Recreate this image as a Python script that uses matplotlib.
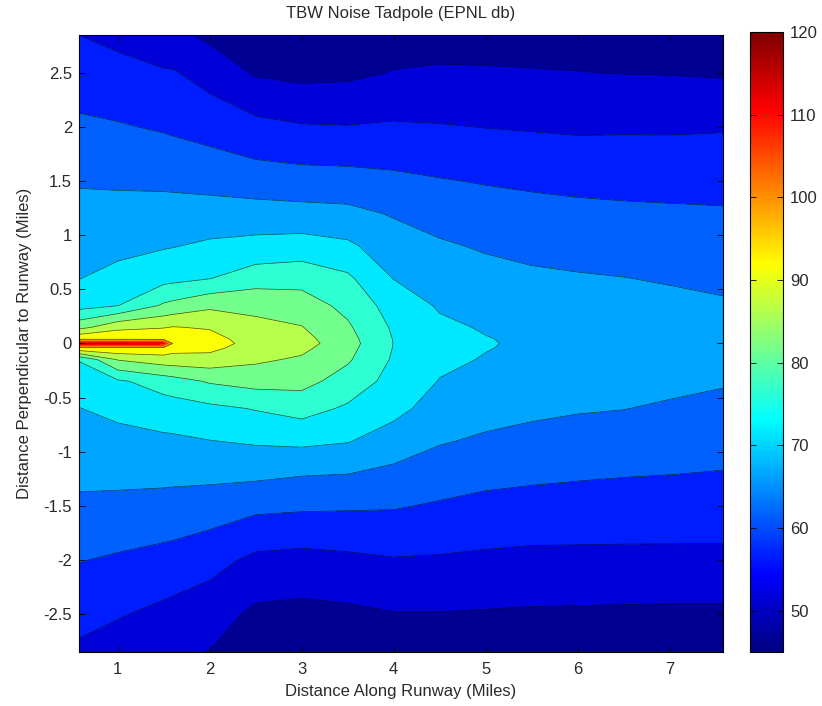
import numpy as np
import matplotlib.pyplot as plt
from matplotlib.colors import Normalize, LinearSegmentedColormap
from matplotlib.cm import ScalarMappable
from matplotlib.ticker import FuncFormatter

# stations along the runway (miles) and offsets across it (miles, bottom -> top)
x_miles = [0.58, 1.0, 1.5, 1.6, 2.0, 2.5, 3.0, 3.5, 4.0, 4.5, 5.0, 5.5, 6.0, 6.5, 7.0, 7.58]
y_miles = [-2.85, -2.5, -2.0, -1.5, -1.2, -0.9, -0.6, -0.35, -0.15, -0.04, 0.0,
           0.04, 0.15, 0.35, 0.6, 0.9, 1.2, 1.5, 2.0, 2.5, 2.85]

# EPNL (dB), one list per station, bottom -> top
epnl_x0_58 = [54.1, 56.6, 60.2, 64.1, 66.2, 68.0, 69.9, 72.7, 75.2, 94.5, 117.0,
              94.5, 83.3, 73.2, 69.9, 68.2, 66.4, 64.6, 60.9, 57.4, 55.0]
epnl_x1_0 = [52.6, 55.4, 59.4, 63.8, 66.3, 68.5, 71.2, 74.2, 85.2, 94.5, 116.0,
             94.5, 88.5, 74.9, 71.5, 68.7, 66.5, 64.4, 60.4, 56.5, 53.8]
epnl_x1_5 = [50.8, 53.8, 58.4, 63.4, 66.3, 69.1, 72.6, 77.3, 87.5, 94.0, 112.0,
             94.0, 89.7, 80.7, 73.4, 69.6, 66.9, 64.1, 59.5, 55.5, 51.5]
epnl_x1_6 = [50.6, 53.4, 58.2, 63.2, 66.3, 69.2, 72.8, 77.9, 87.7, 92.0, 94.0,
             93.0, 90.2, 81.4, 73.7, 69.8, 66.9, 64.0, 59.2, 55.4, 51.2]
epnl_x2_0 = [49.9, 52.2, 56.7, 62.6, 66.3, 69.9, 73.9, 80.5, 87.9, 91.5, 93.0,
             92.0, 89.5, 84.0, 74.9, 70.8, 67.1, 63.4, 58.1, 53.1, 49.0]
epnl_x2_5 = [47.5, 49.0, 53.9, 61.2, 66.2, 70.6, 75.3, 81.9, 85.8, 87.2, 87.5,
             87.4, 86.2, 83.8, 77.7, 71.5, 67.1, 62.4, 56.4, 49.5, 47.5]
epnl_x3_0 = [46.5, 48.6, 53.4, 60.8, 65.4, 71.1, 76.9, 81.6, 84.3, 86.2, 87.0,
             86.6, 85.2, 82.3, 78.3, 72.1, 66.7, 62.0, 55.4, 48.7, 46.5]
epnl_x3_5 = [46.5, 49.0, 54.0, 60.6, 65.1, 70.3, 74.3, 77.9, 80.6, 81.6, 82.0,
             81.7, 80.7, 78.7, 75.9, 70.9, 66.3, 61.8, 55.2, 49.0, 47.0]
epnl_x4_0 = [47.5, 49.8, 54.7, 60.4, 63.9, 67.7, 71.5, 73.3, 74.4, 74.8, 74.9,
             74.8, 74.3, 72.8, 69.9, 67.3, 64.6, 61.1, 55.6, 50.2, 48.0]
epnl_x4_5 = [47.5, 49.8, 54.5, 59.5, 62.5, 65.4, 67.8, 69.8, 71.0, 71.4, 71.5,
             71.4, 70.9, 69.5, 67.7, 65.6, 63.1, 60.3, 55.3, 50.6, 48.0]
epnl_x5_0 = [47.5, 49.6, 54.1, 58.7, 61.5, 64.3, 66.8, 68.5, 69.7, 70.2, 70.3,
             70.2, 69.6, 68.3, 66.6, 64.5, 62.1, 59.7, 54.9, 50.5, 48.0]
epnl_x5_5 = [47.5, 49.4, 53.8, 58.3, 61.0, 63.7, 65.9, 67.6, 68.8, 69.2, 69.3,
             69.2, 68.8, 67.6, 65.8, 63.8, 61.6, 59.2, 54.6, 50.3, 48.0]
epnl_x6_0 = [47.5, 49.3, 53.8, 58.1, 60.6, 63.1, 65.4, 67.1, 68.1, 68.4, 68.5,
             68.4, 68.1, 67.1, 65.4, 63.4, 61.2, 58.8, 54.3, 50.1, 48.0]
epnl_x6_5 = [47.5, 49.2, 53.8, 57.9, 60.3, 62.7, 65.1, 66.6, 67.6, 67.9, 68.0,
             67.9, 67.6, 66.6, 65.1, 63.0, 60.9, 58.6, 54.4, 49.9, 48.0]
epnl_x7_0 = [47.5, 49.1, 53.8, 57.8, 60.1, 62.2, 64.4, 66.2, 67.1, 67.4, 67.5,
             67.4, 67.1, 66.2, 64.6, 62.6, 60.7, 58.5, 54.4, 49.8, 48.0]
epnl_x7_58 = [47.5, 49.1, 53.8, 57.7, 59.8, 61.8, 63.8, 65.4, 66.5, 66.9, 67.0,
              66.9, 66.5, 65.5, 64.1, 62.3, 60.5, 58.4, 54.6, 49.5, 48.0]

contour_levels = [45, 50, 55, 60, 65, 70, 75, 80, 85, 90, 95, 100, 105, 110, 115, 120]
x_ticks = [1, 2, 3, 4, 5, 6, 7]
y_ticks = [-2.5, -2, -1.5, -1, -0.5, 0, 0.5, 1, 1.5, 2, 2.5]
cbar_ticks = [50, 60, 70, 80, 90, 100, 110, 120]

plt.rcParams['font.family'] = ['Liberation Sans', 'DejaVu Sans']
plt.rcParams['axes.unicode_minus'] = False
TEXT = '#2a2a2a'
FS = 12

# classic MATLAB jet
MJET = LinearSegmentedColormap('mjet', {
    'red': [(0, 0, 0), (0.375, 0, 0), (0.625, 1, 1), (0.875, 1, 1), (1, 0.5, 0.5)],
    'green': [(0, 0, 0), (0.125, 0, 0), (0.375, 1, 1), (0.625, 1, 1),
              (0.875, 0, 0), (1, 0, 0)],
    'blue': [(0, 0.5, 0.5), (0.125, 1, 1), (0.375, 1, 1), (0.625, 0, 0), (1, 0, 0)],
}, N=256)


def build_grid():
    """Stacks the per-station profiles into a (y, x) grid."""
    stations = [epnl_x0_58, epnl_x1_0, epnl_x1_5, epnl_x1_6, epnl_x2_0, epnl_x2_5,
                epnl_x3_0, epnl_x3_5, epnl_x4_0, epnl_x4_5, epnl_x5_0, epnl_x5_5,
                epnl_x6_0, epnl_x6_5, epnl_x7_0, epnl_x7_58]
    z = np.array(stations).T
    x, y = np.meshgrid(x_miles, y_miles)
    return x, y, z


def plot_tadpole():
    x, y, z = build_grid()
    norm = Normalize(contour_levels[0], contour_levels[-1])
    # band colour taken a little above each band's lower level
    band_colors = [MJET(norm(lo + 0.3 * (hi - lo)))
                   for lo, hi in zip(contour_levels[:-1], contour_levels[1:])]

    fig = plt.figure(figsize=(8.22, 7.06), dpi=100)
    ax = fig.add_axes([0.0961, 0.0765, 0.7835, 0.874])
    cax = fig.add_axes([0.9124, 0.0765, 0.0401, 0.878])

    ax.contourf(x, y, z, levels=contour_levels, colors=band_colors)
    ax.contour(x, y, z, levels=contour_levels[1:11], colors='k',
               linewidths=0.5, alpha=0.7)

    ax.set_xlim(x_miles[0], x_miles[-1])
    ax.set_ylim(y_miles[0], y_miles[-1])
    ax.set_xticks(x_ticks)
    ax.set_yticks(y_ticks)
    fmt = FuncFormatter(lambda v, _: f"{v:g}")
    ax.xaxis.set_major_formatter(fmt)
    ax.yaxis.set_major_formatter(fmt)
    ax.tick_params(direction='in', top=True, right=True, length=4, width=0.6,
                   labelsize=FS, labelcolor=TEXT, pad=5)
    ax.tick_params(axis='x', pad=7)
    for s in ax.spines.values():
        s.set_linewidth(0.8)

    ax.set_title("TBW Noise Tadpole (EPNL db)", fontsize=FS, color=TEXT, pad=12)
    ax.set_xlabel("Distance Along Runway (Miles)", fontsize=FS, color=TEXT, labelpad=5)
    ax.set_ylabel("Distance Perpendicular to Runway (Miles)", fontsize=FS,
                  color=TEXT, labelpad=8)

    cb = fig.colorbar(ScalarMappable(norm=norm, cmap=MJET), cax=cax, ticks=cbar_ticks)
    cb.outline.set_linewidth(0.8)
    cax.tick_params(direction='in', left=True, right=True, length=4, width=0.6,
                    labelsize=FS, labelcolor=TEXT, pad=5)

    fig.savefig("out.png", dpi=100)


if __name__ == "__main__":
    plot_tadpole()
